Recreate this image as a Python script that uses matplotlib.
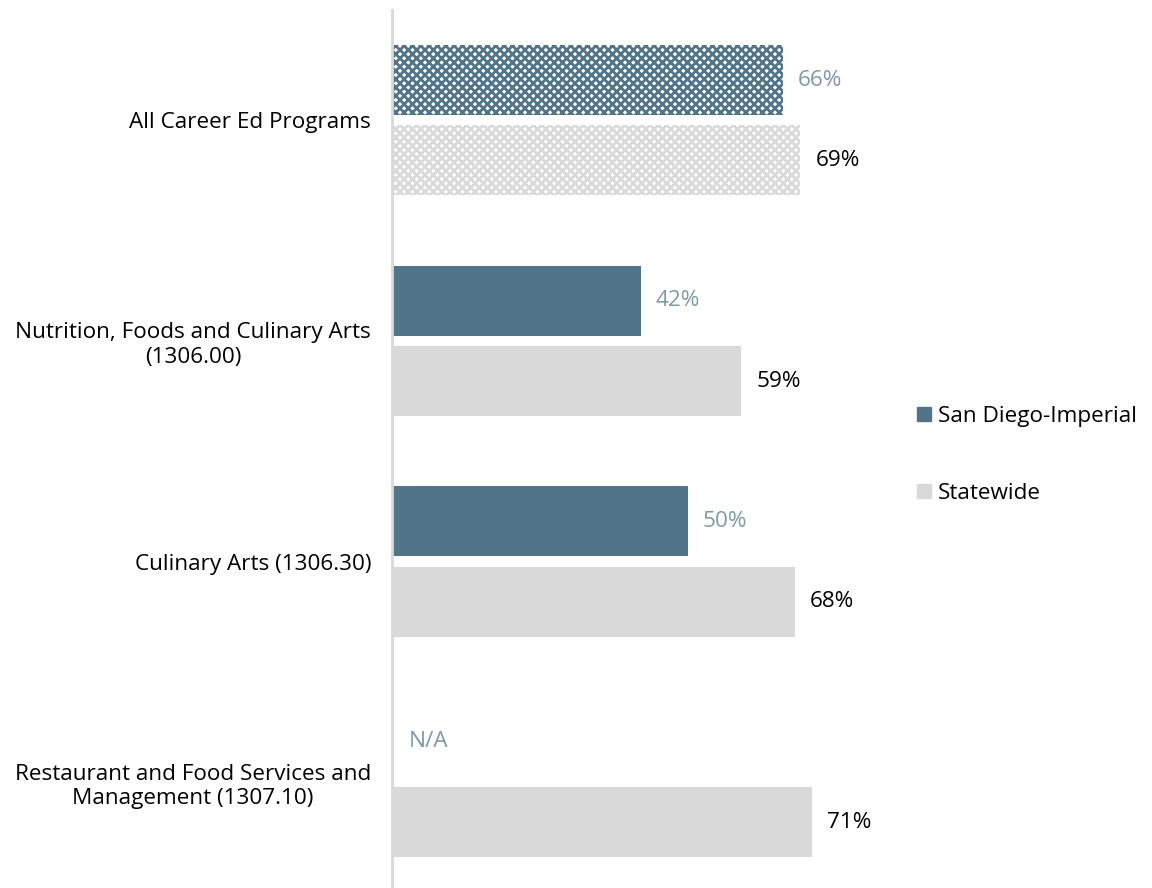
import numpy as np
import matplotlib.pyplot as plt
from matplotlib.patches import Patch

plt.rcParams['font.family'] = ['Open Sans', 'DejaVu Sans']
plt.rcParams['hatch.linewidth'] = 2.0

categories = ['All Career Ed Programs',
              'Nutrition, Foods and Culinary Arts\n(1306.00)',
              'Culinary Arts (1306.30)',
              'Restaurant and Food Services and\nManagement (1307.10)']
region = [66, 42, 50, None]
statewide = [69, 59, 68, 71]
series_names = ['San Diego-Imperial', 'Statewide']

dark = '#527488'
light = '#d9d9d9'
dark_text = '#7f98a8'
fs = 16.2

fig = plt.figure(figsize=(11.52, 8.88), dpi=100)
ax = fig.add_axes([392 / 1152, 0, (900 - 392) / 1152, 878 / 888])

y = np.arange(len(categories))
off = 0.182
h = 0.317

for i, (r, s) in enumerate(zip(region, statewide)):
    hatched = i == 0
    if r is not None:
        if hatched:
            ax.barh(y[i] - off, r, height=h, facecolor='white', edgecolor=dark,
                    hatch='xxxx', linewidth=0)
        else:
            ax.barh(y[i] - off, r, height=h, color=dark, linewidth=0)
        ax.text(r + 2.5, y[i] - off, f'{r}%', va='center', ha='left',
                fontsize=fs, color=dark_text)
    else:
        ax.text(2.9, y[i] - off, 'N/A', va='center', ha='left',
                fontsize=fs, color=dark_text)
    if hatched:
        ax.barh(y[i] + off, s, height=h, facecolor='white', edgecolor=light,
                hatch='xxxx', linewidth=0)
    else:
        ax.barh(y[i] + off, s, height=h, color=light, linewidth=0)
    ax.text(s + 2.5, y[i] + off, f'{s}%', va='center', ha='left',
            fontsize=fs, color='black')

ax.set_xlim(0, (900 - 392) / 5.92)
ax.set_ylim(3.48, -0.5)
ax.set_yticks(y)
ax.set_yticklabels(categories, fontsize=fs, multialignment='center')
ax.tick_params(axis='y', length=0, pad=15)
ax.set_xticks([])
for side in ['top', 'right', 'bottom']:
    ax.spines[side].set_visible(False)
ax.spines['left'].set_color(light)
ax.spines['left'].set_linewidth(2)

handles = [Patch(color=dark), Patch(color=light)]
fig.legend(handles, series_names, loc='center left',
           bbox_to_anchor=(897 / 1152, 1 - 455 / 888), frameon=False,
           fontsize=fs, handlelength=0.6, handleheight=0.6,
           handletextpad=0.3, labelspacing=2.5)

fig.savefig('out.png', dpi=100)
